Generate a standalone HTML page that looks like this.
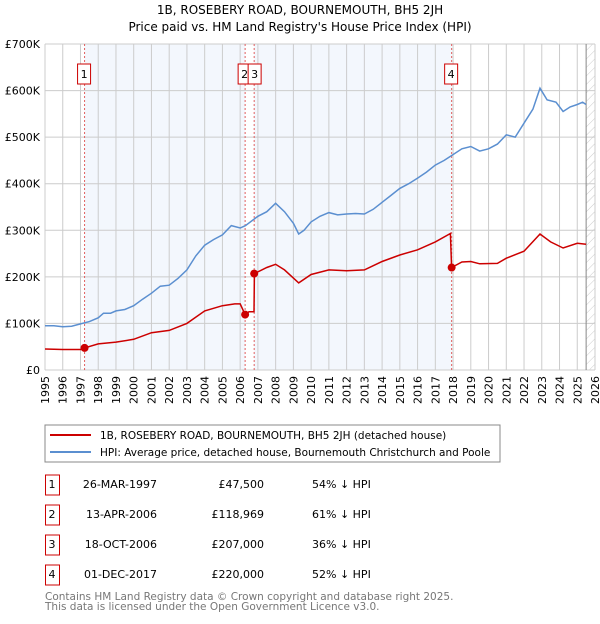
<!DOCTYPE html>
<html><head><meta charset="utf-8">
<style>
body{margin:0;background:#fff;font-family:"DejaVu Sans","Liberation Sans",sans-serif;}
svg text{font-family:"DejaVu Sans","Liberation Sans",sans-serif;}
</style></head>
<body>
<svg id="chart" width="600" height="620" xmlns="http://www.w3.org/2000/svg">
<defs>
<pattern id="hatch" width="6" height="6" patternUnits="userSpaceOnUse" patternTransform="rotate(45)">
<line x1="0" y1="0" x2="0" y2="6" stroke="#ccc" stroke-width="1"/>
</pattern>
</defs>
<text x="300" y="14" text-anchor="middle" font-size="12">1B, ROSEBERY ROAD, BOURNEMOUTH, BH5 2JH</text>
<text x="300" y="31" text-anchor="middle" font-size="12">Price paid vs. HM Land Registry's House Price Index (HPI)</text>
<g id="plot"></g>
<rect x="45" y="425" width="455" height="37" fill="none" stroke="#888"/>
<line x1="50" y1="435" x2="91" y2="435" stroke="#cc0000" stroke-width="2"/>
<text x="100" y="439" font-size="10.5">1B, ROSEBERY ROAD, BOURNEMOUTH, BH5 2JH (detached house)</text>
<line x1="50" y1="452" x2="91" y2="452" stroke="#5b8fd0" stroke-width="2"/>
<text x="100" y="456" font-size="10.5">HPI: Average price, detached house, Bournemouth Christchurch and Poole</text>
<g id="table" font-size="11"></g>
<text x="45" y="600" font-size="10.5" fill="#777">Contains HM Land Registry data © Crown copyright and database right 2025.</text>
<text x="45" y="610" font-size="10.5" fill="#777">This data is licensed under the Open Government Licence v3.0.</text>
</svg>
<script>
const yTicks=[0,100,200,300,400,500,600,700];
const yTickLabels=["£0","£100K","£200K","£300K","£400K","£500K","£600K","£700K"];
const xYears=[1995,1996,1997,1998,1999,2000,2001,2002,2003,2004,2005,2006,2007,2008,2009,2010,2011,2012,2013,2014,2015,2016,2017,2018,2019,2020,2021,2022,2023,2024,2025,2026];
const hpiT=[1995,1995.5,1996,1996.5,1997,1997.5,1998,1998.3,1998.7,1999,1999.5,2000,2000.5,2001,2001.5,2002,2002.5,2003,2003.5,2004,2004.5,2005,2005.5,2006,2006.3,2007,2007.5,2008,2008.5,2009,2009.3,2009.6,2010,2010.5,2011,2011.5,2012,2012.5,2013,2013.5,2014,2014.5,2015,2015.5,2016,2016.5,2017,2017.5,2017.9,2018.5,2019,2019.5,2020,2020.5,2021,2021.5,2022,2022.5,2022.9,2023.3,2023.8,2024.2,2024.6,2025,2025.3,2025.5];
const hpiV=[95,95,93,94,99,104,112,122,122,127,130,138,152,165,180,182,197,215,245,268,280,290,310,305,310,330,340,358,340,315,292,300,318,330,338,333,335,336,335,345,360,375,390,400,412,425,440,450,460,475,480,470,475,485,505,500,530,560,605,580,575,555,565,570,575,570];
const redT=[1995,1996,1997,1997.23,1998,1999,2000,2001,2002,2003,2004,2005,2005.7,2006.0,2006.28,2006.5,2006.78,2006.8,2007.5,2008,2008.5,2009.3,2010,2011,2012,2013,2014,2015,2016,2017,2017.85,2017.92,2018.5,2019,2019.5,2020.5,2021,2022,2022.9,2023.5,2024.2,2025,2025.5];
const redV=[45,44,44,47.5,56,60,66,80,85,100,127,138,142,142,119,125,125,207,220,227,215,187,205,215,213,215,233,247,258,275,293,220,232,233,228,229,240,255,292,275,262,272,270];
const saleT=[1997.23,2006.28,2006.79,2017.92];
const saleV=[47.5,118.969,207,220];
const saleLabels=["1","2","3","4"];
const saleDates=["26-MAR-1997","13-APR-2006","18-OCT-2006","01-DEC-2017"];
const salePrices=["£47,500","£118,969","£207,000","£220,000"];
const saleDiffs=["54% ↓ HPI","61% ↓ HPI","36% ↓ HPI","52% ↓ HPI"];

const X0=45,X1=595,Y0=370,Y1=44;
const sx=t=>X0+(t-1995)/(2026-1995)*(X1-X0);
const sy=v=>Y0-v/700*(Y0-Y1);
const NS="http://www.w3.org/2000/svg";
const plot=document.getElementById('plot');
function mk(tag,attrs,parent){const e=document.createElementNS(NS,tag);for(const k in attrs)e.setAttribute(k,attrs[k]);(parent||plot).appendChild(e);return e;}

let r=mk('rect',{x:sx(saleT[0]),y:Y1,width:sx(saleT[1])-sx(saleT[0]),height:Y0-Y1,fill:'#eef3fc',opacity:0.7});


r=mk('rect',{x:sx(saleT[2]),y:Y1,width:sx(saleT[3])-sx(saleT[2]),height:Y0-Y1,fill:'#eef3fc',opacity:0.7});


r=mk('rect',{x:sx(2025.5),y:Y1,width:X1-sx(2025.5),height:Y0-Y1,fill:'url(#hatch)'});


yTicks.forEach((v,i)=>{
  const l=mk('line',{x1:X0,x2:X1,y1:sy(v),y2:sy(v),stroke:'#ccc','stroke-width':1});
  
  
  const t=mk('text',{x:X0-5,y:sy(v)+4,'text-anchor':'end','font-size':11});
  t.textContent=yTickLabels[i];
  
  
});
xYears.forEach(y=>{
  const l=mk('line',{x1:sx(y),x2:sx(y),y1:Y1,y2:Y0,stroke:'#ccc','stroke-width':1});
  
  
  const t=mk('text',{x:0,y:0,'text-anchor':'end','font-size':11,transform:`translate(${sx(y)+4},${Y0+6}) rotate(-90)`});
  t.textContent=y;
  
  
});
let bl=mk('line',{x1:sx(2025.5),x2:sx(2025.5),y1:Y1,y2:Y0,stroke:'#888','stroke-width':1});


saleT.forEach((t,i)=>{
  const l=mk('line',{x1:sx(t),x2:sx(t),y1:Y1,y2:Y0,stroke:'#e06060','stroke-width':1,'stroke-dasharray':'2,2'});
  
  
});
const pts=(T,V)=>T.map((t,i)=>sx(t).toFixed(1)+','+sy(V[i]).toFixed(1)).join(' ');
let p=mk('polyline',{points:pts(hpiT,hpiV),fill:'none',stroke:'#5b8fd0','stroke-width':1.5});


p=mk('polyline',{points:pts(redT,redV),fill:'none',stroke:'#cc0000','stroke-width':1.5});


saleT.forEach((t,i)=>{
  const c=mk('circle',{cx:sx(t),cy:sy(saleV[i]),r:4,fill:'#cc0000'});
  
  
});
const boxX=[sx(saleT[0])-7,sx(saleT[1])-7,sx(saleT[1])+3,sx(saleT[3])-7];
saleLabels.forEach((s,i)=>{
  const b=mk('rect',{x:boxX[i],y:64,width:13,height:20,fill:'#fff',stroke:'#cc0000','stroke-width':1});
  
  
  const t=mk('text',{x:boxX[i]+6.5,y:78,'text-anchor':'middle','font-size':11});
  t.textContent=s;
  
  
});
const tb=document.getElementById('table');
saleLabels.forEach((s,i)=>{
  const y=484+i*30;
  const b=mk('rect',{x:45.5,y:y-9,width:14,height:20,fill:'none',stroke:'#cc0000'},tb);
  
  
  const cols=[[52,s,'middle'],[157,saleDates[i],'end'],[264,salePrices[i],'end'],[312,saleDiffs[i],'start']];
  cols.forEach(c=>{
    const t=mk('text',{x:c[0],y:y+4,'text-anchor':c[2]},tb);
    t.textContent=c[1];
    
    
  });
});
</script>
</body></html>
